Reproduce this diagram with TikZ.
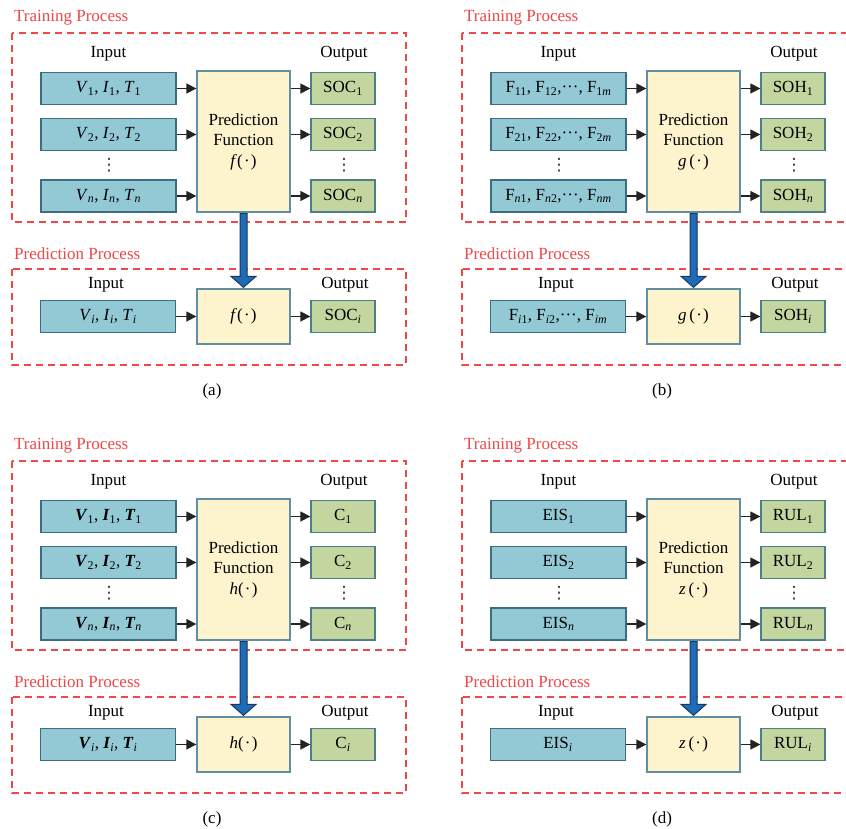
\documentclass[tikz,border=0pt]{standalone}
\usepackage{fontspec}
\setmainfont{Liberation Serif}
\newfontfamily\symfont{DejaVu Sans}
\usetikzlibrary{arrows.meta,calc}
\definecolor{inFill}{RGB}{147,201,213}
\definecolor{inDraw}{RGB}{58,110,128}
\definecolor{fnFill}{RGB}{253,243,205}
\definecolor{fnDraw}{RGB}{95,143,160}
\definecolor{outFill}{RGB}{195,214,159}
\definecolor{outDraw}{RGB}{77,127,134}
\definecolor{redDash}{RGB}{238,72,72}
\definecolor{bigBlue}{RGB}{30,108,184}
\definecolor{bigBlueDraw}{RGB}{25,55,95}
\definecolor{arrowGray}{RGB}{35,35,35}
\tikzset{
  every node/.style={font=\fontsize{17}{20.5}\selectfont, inner sep=0pt},
  inbox/.style={draw=inDraw, fill=inFill, line width=1.3pt, minimum width=135pt, minimum height=32pt},
  fnbox/.style={draw=fnDraw, fill=fnFill, line width=1.3pt, minimum width=93pt, align=center},
  outbox/.style={draw=outDraw, fill=outFill, line width=1.3pt, minimum width=64pt, minimum height=32pt},
  dashbox/.style={draw=redDash, dash pattern=on 7pt off 5pt, line width=1.3pt},
  proctitle/.style={text=redDash, anchor=base west},
  colhead/.style={anchor=base},
  vdotsnode/.style={font=\symfont\fontsize{17}{20}\selectfont, text=black!80},
  flow/.style={draw=arrowGray, line width=1.5pt, -{Triangle[length=10pt,width=10pt]}},
  bigarrow/.style={fill=bigBlue, draw=bigBlueDraw, line width=1pt},
}
\newcommand\dotcol{⋮}
\newcommand\argdot{(\kern1.2pt·\kern1.2pt)}
% #1 prefix/label, #2 in1, #3 in2, #4 inn, #5 ini, #6 function, #7 output base, #8 dx, #9 dy
\newcommand\DrawPanel[9]{%
\begin{scope}[shift={(#8,#9)}]
  \node[proctitle] (#1-tt) at (14,21) {Training Process};
  \draw[dashbox] (12,33) rectangle (406,222);
  \node[colhead] (#1-hin) at (108.5,57) {Input};
  \node[colhead] (#1-hout) at (344,57) {Output};
  \node[inbox] (#1-i1) at (108.5,88.5) {#2};
  \node[inbox] (#1-i2) at (108.5,134.5) {#3};
  \node[vdotsnode] (#1-id) at (109,165) {\dotcol};
  \node[inbox] (#1-in) at (108.5,196) {#4};
  \node[fnbox, minimum height=141pt] (#1-pf) at (243.5,141.5) {Prediction\\Function\\#6\argdot};
  \node[outbox] (#1-o1) at (343,88.5) {#7\textsubscript{1}};
  \node[outbox] (#1-o2) at (343,134.5) {#7\textsubscript{2}};
  \node[vdotsnode] (#1-od) at (344,165) {\dotcol};
  \node[outbox] (#1-on) at (343,196) {#7\textsubscript{\textit{n}}};
  \foreach \k in {i1,i2,in} {\draw[flow] (#1-\k.east) -- (#1-\k.east -| #1-pf.west);}
  \foreach \k in {o1,o2,on} {\draw[flow] (#1-pf.east |- #1-\k.west) -- (#1-\k.west);}
  \node[proctitle] (#1-pt) at (14,259) {Prediction Process};
  \draw[dashbox] (12,269) rectangle (406,365);
  \node[colhead] (#1-hin2) at (106,288) {Input};
  \node[colhead] (#1-hout2) at (345,288) {Output};
  \node[inbox] (#1-ii) at (108,316.5) {#5};
  \node[fnbox, minimum height=55pt] (#1-fi) at (243.5,316.5) {#6\argdot};
  \node[outbox] (#1-oi) at (343,316.5) {#7\textsubscript{\textit{i}}};
  \draw[flow] (#1-ii.east) -- (#1-fi.west);
  \draw[flow] (#1-fi.east) -- (#1-oi.west);
  \node (#1-cap) at (212,391) {(#1)};
  \filldraw[bigarrow] ($(#1-pf.south)+(-3.5,1)$) -- ($(#1-fi.north)+(-3.5,-12)$)
    -- ($(#1-fi.north)+(-12.5,-12)$) -- ($(#1-fi.north)+(0,-1)$)
    -- ($(#1-fi.north)+(12.5,-12)$) -- ($(#1-fi.north)+(3.5,-12)$)
    -- ($(#1-pf.south)+(3.5,1)$) -- cycle;
\end{scope}}
\newcommand\itx[1]{\textit{#1}}
\newcommand\bix[1]{\textbf{\textit{#1}}}
\newcommand\sbs[1]{\textsubscript{#1}}
\begin{document}
\begin{tikzpicture}[x=1pt,y=-1pt]
\useasboundingbox (0,0) rectangle (846,828);
\clip (0,0) rectangle (846,828);
\fill[white] (0,0) rectangle (846,828);
\DrawPanel{a}
  {\itx{V}\sbs{1}, \itx{I}\sbs{1}, \itx{T}\sbs{1}}
  {\itx{V}\sbs{2}, \itx{I}\sbs{2}, \itx{T}\sbs{2}}
  {\itx{V}\sbs{\itx{n}}, \itx{I}\sbs{\itx{n}}, \itx{T}\sbs{\itx{n}}}
  {\itx{V}\sbs{\itx{i}}, \itx{I}\sbs{\itx{i}}, \itx{T}\sbs{\itx{i}}}
  {\itx{f}}{SOC}{0}{0}
\DrawPanel{b}
  {F\sbs{11}, F\sbs{12},···, F\sbs{1\itx{m}}}
  {F\sbs{21}, F\sbs{22},···, F\sbs{2\itx{m}}}
  {F\sbs{\itx{n}1}, F\sbs{\itx{n}2},···, F\sbs{\itx{nm}}}
  {F\sbs{\itx{i}1}, F\sbs{\itx{i}2},···, F\sbs{\itx{im}}}
  {\itx{g}\,}{SOH}{450}{0}
\DrawPanel{c}
  {\bix{V}\sbs{1}, \bix{I}\sbs{1}, \bix{T}\sbs{1}}
  {\bix{V}\sbs{2}, \bix{I}\sbs{2}, \bix{T}\sbs{2}}
  {\bix{V}\sbs{\itx{n}}, \bix{I}\sbs{\itx{n}}, \bix{T}\sbs{\itx{n}}}
  {\bix{V}\sbs{\itx{i}}, \bix{I}\sbs{\itx{i}}, \bix{T}\sbs{\itx{i}}}
  {\itx{h}}{C}{0}{428}
\DrawPanel{d}
  {EIS\sbs{1}}
  {EIS\sbs{2}}
  {EIS\sbs{\itx{n}}}
  {EIS\sbs{\itx{i}}}
  {\itx{z}\,}{RUL}{450}{428}
\end{tikzpicture}
\end{document}
